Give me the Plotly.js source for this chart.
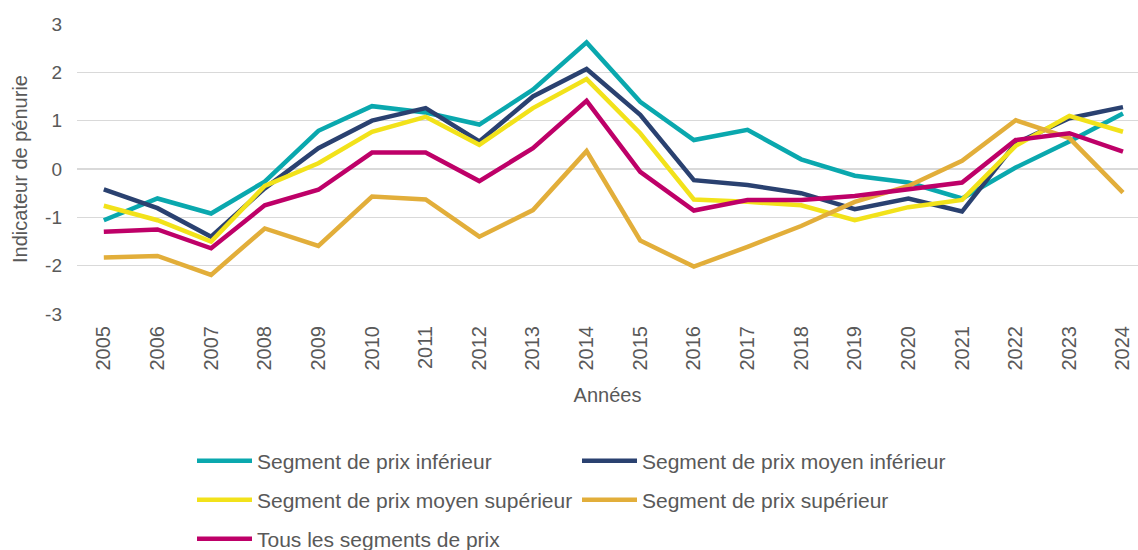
<!DOCTYPE html>
<html>
<head>
<meta charset="utf-8">
<script src="https://cdn.plot.ly/plotly-3.0.1.min.js"></script>
<style>
  html, body { margin: 0; padding: 0; background: #fff; }
  #chart { width: 1138px; height: 550px; }
</style>
</head>
<body>
<div id="chart"></div>
<script>
// années 2005 à 2024
const years = [2005, 2006, 2007, 2008, 2009, 2010, 2011, 2012, 2013, 2014,
               2015, 2016, 2017, 2018, 2019, 2020, 2021, 2022, 2023, 2024];

// valeurs
const inferieur      = [-1.06, -0.61, -0.92, -0.26, 0.79, 1.30, 1.17, 0.92, 1.64, 2.62,
                        1.39, 0.60, 0.81, 0.20, -0.14, -0.28, -0.61, 0.03, 0.57, 1.15];
const moyenInferieur = [-0.42, -0.81, -1.40, -0.40, 0.43, 1.00, 1.26, 0.57, 1.50, 2.07,
                        1.12, -0.23, -0.33, -0.50, -0.83, -0.61, -0.88, 0.53, 1.05, 1.28];
const moyenSuperieur = [-0.76, -1.06, -1.50, -0.35, 0.12, 0.77, 1.08, 0.50, 1.26, 1.86,
                        0.74, -0.63, -0.68, -0.75, -1.06, -0.79, -0.64, 0.48, 1.10, 0.77];
const superieur      = [-1.83, -1.80, -2.19, -1.23, -1.59, -0.57, -0.63, -1.40, -0.85, 0.37,
                        -1.48, -2.02, -1.61, -1.18, -0.68, -0.35, 0.17, 1.01, 0.64, -0.49];
const tousSegments   = [-1.30, -1.25, -1.64, -0.75, -0.43, 0.34, 0.34, -0.25, 0.43, 1.41,
                        -0.06, -0.86, -0.64, -0.64, -0.56, -0.42, -0.28, 0.60, 0.74, 0.36];

const seriesNames = ['Segment de prix inférieur', 'Segment de prix moyen inférieur',
                     'Segment de prix moyen supérieur', 'Segment de prix supérieur',
                     'Tous les segments de prix'];
const seriesColors = ['#0AA8AE', '#2A4170', '#F2E21A', '#E2AE3A', '#BE0068'];
const seriesLegend = ['legend', 'legend', 'legend2', 'legend2', 'legend3'];

const yTickVals = [-3, -2, -1, 0, 1, 2, 3];
const yTickText = ['-3', '-2', '-1', '0', '1', '2', '3'];

const textColor = '#595959';
const fontFamily = 'Liberation Sans, Arial, sans-serif';

const allSeries = [inferieur, moyenInferieur, moyenSuperieur, superieur, tousSegments];

const traces = allSeries.map((vals, i) => ({
    x: years,
    y: vals,
    type: 'scatter',
    mode: 'lines',
    name: seriesNames[i],
    legend: seriesLegend[i],
    line: {color: seriesColors[i], width: 4.5}
}));

function legendRow(yPix) {
    return {
        orientation: 'h',
        xref: 'container', yref: 'container',
        x: 192 / 1138, xanchor: 'left',
        y: 1 - yPix / 550, yanchor: 'middle',
        entrywidth: 315, entrywidthmode: 'pixels',
        itemwidth: 55,
        font: {family: fontFamily, size: 21, color: textColor},
        bgcolor: 'rgba(0,0,0,0)'
    };
}

const layout = {
    width: 1138,
    height: 550,
    margin: {l: 77, r: 0, t: 24, b: 236},
    paper_bgcolor: '#fff',
    plot_bgcolor: '#fff',
    font: {family: fontFamily, color: textColor},
    xaxis: {
        type: 'linear',
        range: [2004.5, 2024.28],
        tickmode: 'array',
        tickvals: years,
        ticktext: years.map(String),
        tickangle: -90,
        tickfont: {size: 20, color: textColor},
        ticklabelstandoff: 7,
        showgrid: false,
        zeroline: false,
        showline: false,
        automargin: false,
        title: {text: 'Années', font: {size: 20, color: textColor}, standoff: 18}
    },
    yaxis: {
        range: [-3, 3],
        tickmode: 'array',
        tickvals: yTickVals,
        ticktext: yTickText,
        tickfont: {size: 19, color: textColor},
        gridcolor: '#D9D9D9',
        gridwidth: 1.5,
        zeroline: false,
        showline: false,
        automargin: false,
        ticklabelstandoff: 14,
        title: {text: 'Indicateur de pénurie', font: {size: 20, color: textColor}}
    },
    legend: legendRow(461),
    legend2: legendRow(500),
    legend3: legendRow(539),
    showlegend: true
};

Plotly.newPlot('chart', traces, layout, {displayModeBar: false, staticPlot: true});
</script>
</body>
</html>
